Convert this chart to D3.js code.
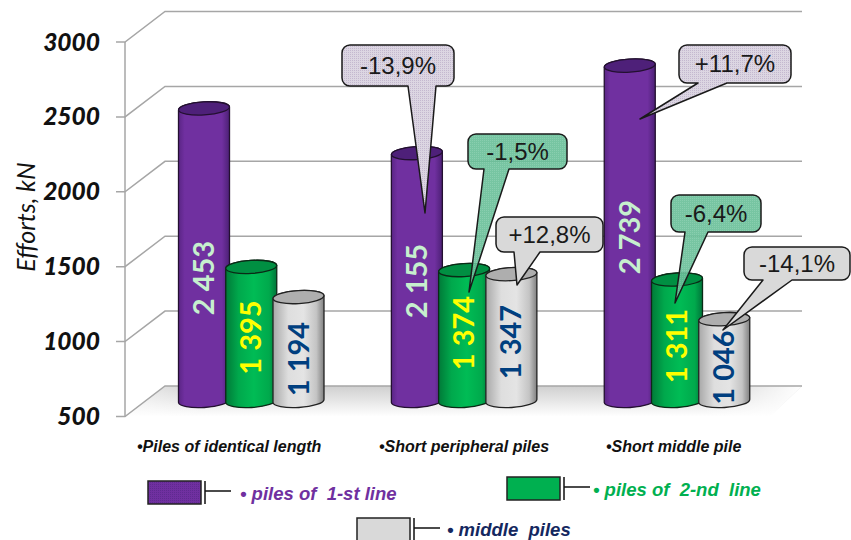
<!DOCTYPE html>
<html><head><meta charset="utf-8">
<script src="https://cdn.jsdelivr.net/npm/d3@7/dist/d3.min.js"></script>
<style>html,body{margin:0;padding:0;background:#fff}svg{display:block}</style>
</head><body><svg id="c" width="851" height="540"></svg>
<script>
// ---- data ----
const categories = ["Piles of identical length", "Short peripheral piles", "Short middle pile"];
const seriesNames = ["piles of  1-st line", "piles of  2-nd  line", "middle  piles"];
const firstLine = [2453, 2155, 2739];
const secondLine = [1395, 1374, 1311];
const middlePiles = [1194, 1347, 1046];
const firstLineDelta = [null, "-13,9%", "+11,7%"];
const secondLineDelta = [null, "-1,5%", "-6,4%"];
const middleDelta = [null, "+12,8%", "-14,1%"];
const yTicks = [500, 1000, 1500, 2000, 2500, 3000];
const yLabel = "Efforts, kN";

// ---- layout ----
const svg = d3.select("#c");
const W = 851, H = 540;
const yFront = d3.scaleLinear().domain([500, 3000]).range([416.5, 42]);
const yBack = d3.scaleLinear().domain([500, 3000]).range([386, 11.5]);
const yBar = d3.scaleLinear().domain([500, 3000]).range([401, 26.5]);
const x0 = d3.scaleBand().domain(d3.range(3)).range([179, 749]).paddingInner(0.3224);
const x1 = d3.scalePoint().domain(d3.range(3)).range([25, 119.5]);
const rx = 25.5, ry = 6.5, tilt = -3.5;
const series = [firstLine, secondLine, middlePiles];

const defs = svg.append("defs");
function cylGrad(id, stops) {
  const g = defs.append("linearGradient").attr("id", id).attr("x1", 0).attr("x2", 1).attr("y1", 0).attr("y2", 0);
  stops.forEach(([o, c]) => g.append("stop").attr("offset", o).attr("stop-color", c));
}
cylGrad("gPurple", [[0, "#5a2585"], [0.12, "#7030a0"], [0.85, "#7030a0"], [1, "#4c2075"]]);
cylGrad("gGreen", [[0, "#007a38"], [0.25, "#00a84c"], [0.55, "#00bc55"], [0.85, "#00a94c"], [1, "#00753a"]]);
cylGrad("gGray", [[0, "#a8a8a8"], [0.3, "#dedede"], [0.6, "#e4e4e4"], [0.85, "#c4c4c4"], [1, "#808080"]]);
const floorG = defs.append("linearGradient").attr("id", "gFloor").attr("x1", 0).attr("x2", 0).attr("y1", 0).attr("y2", 1);
floorG.append("stop").attr("offset", 0).attr("stop-color", "#cfcfcf");
floorG.append("stop").attr("offset", 1).attr("stop-color", "#ffffff");
const fade = defs.append("linearGradient").attr("id", "gFade").attr("x1", 0).attr("x2", 1).attr("y1", 0).attr("y2", 0);
[[0, "#fff", 0.6], [0.12, "#fff", 0], [0.85, "#fff", 0], [1, "#fff", 1]].forEach(([o, c, a]) =>
  fade.append("stop").attr("offset", o).attr("stop-color", c).attr("stop-opacity", a));
function dots(id, bg, fg, opacity) {
  const p = defs.append("pattern").attr("id", id).attr("width", 2).attr("height", 2).attr("patternUnits", "userSpaceOnUse");
  p.append("rect").attr("width", 2).attr("height", 2).attr("fill", bg);
  p.append("rect").attr("width", 1).attr("height", 1).attr("fill", fg).attr("opacity", opacity);
}
dots("pCallPurple", "#dcd6e2", "#c4b8cf", 1);
dots("pCallGreen", "#68bf98", "#7cc9a6", 1);
dots("pSwatch", "#7030a0", "#5f2a90", 1);

// ---- floor and grid ----
const floorPts = [[125, yFront(500)], [165, yBack(500)], [802, yBack(500)], [770, yFront(500)]];
const floorLine = d3.line();
svg.append("path").attr("d", floorLine(floorPts) + "Z").attr("fill", "url(#gFloor)");
svg.append("path").attr("d", floorLine(floorPts) + "Z").attr("fill", "url(#gFade)");

const gridColor = "#a6a6a6";
const grid = svg.append("g").attr("fill", "none").attr("stroke", gridColor).attr("stroke-width", 1.5);
grid.selectAll("path").data(yTicks).join("path")
  .attr("d", v => floorLine([[116, yFront(v)], [125, yFront(v)], [165, yBack(v)], [802, yBack(v)]]));
grid.append("line").attr("x1", 125).attr("x2", 125).attr("y1", yFront(3000)).attr("y2", yFront(500));

// tick labels
svg.append("g").selectAll("text").data(yTicks).join("text")
  .attr("x", 100).attr("y", v => yFront(v) + 8.5)
  .attr("text-anchor", "end")
  .attr("font-family", "Lato").attr("font-weight", 900).attr("font-style", "italic")
  .attr("font-size", 24.5).attr("fill", "#111")
  .text(d => d);
svg.append("text").attr("transform", "translate(35,217) rotate(-90)")
  .attr("text-anchor", "middle").attr("font-family", "Lato").attr("font-style", "italic")
  .attr("font-size", 25).attr("fill", "#111").text(yLabel);

// ---- cylinders ----
const cylStyles = [
  { fill: "url(#gPurple)", top: "#4e2079", stroke: "#231030" },
  { fill: "url(#gGreen)", top: "#008f42", stroke: "#0a2a16" },
  { fill: "url(#gGray)", top: "#aeaeae", stroke: "#222" }
];
function cylinderPath(cx, yTop, yBase) {
  const t = Math.tan(tilt * Math.PI / 180) * rx;
  return `M${cx - rx},${yTop - t}L${cx - rx},${yBase - t}` +
    `A${rx},${ry} ${tilt} 0 0 ${cx + rx},${yBase + t}` +
    `L${cx + rx},${yTop + t}` +
    `A${rx},${ry} ${tilt} 0 0 ${cx - rx},${yTop - t}Z`;
}
const barG = svg.append("g");
series.forEach((vals, s) => {
  const st = cylStyles[s];
  vals.forEach((v, c) => {
    const cx = x0(c) + x1(s);
    const g = barG.append("g");
    g.append("path").attr("d", cylinderPath(cx, yBar(v), yBar(500)))
      .attr("fill", st.fill).attr("stroke", st.stroke).attr("stroke-width", 1.3);
    g.append("ellipse").attr("cx", cx).attr("cy", yBar(v)).attr("rx", rx).attr("ry", ry)
      .attr("transform", `rotate(${tilt} ${cx} ${yBar(v)})`)
      .attr("fill", st.top).attr("stroke", st.stroke).attr("stroke-width", 1.3);
  });
});

// ---- value labels (hand-placed in the source, centres along each cylinder) ----
const labelCentres = [[278, 281, 237], [337.5, 333, 346], [359, 342, 367.5]];
const labelOrder = [[0, 0], [0, 1], [0, 2], [1, 0], [1, 1], [1, 2], [2, 0], [2, 1], [2, 2]];
const labelColors = ["#c6efce", "#ffff00", "#003f7f"];
const fmt = v => { const s = String(v); return s.slice(0, s.length - 3) + " " + s.slice(-3); };
svg.append("g").selectAll("text").data(labelOrder).join("text")
  .attr("transform", ([s, c]) => `translate(${x0(c) + x1(s) + 10},${labelCentres[s][c]}) rotate(-90)`)
  .attr("text-anchor", "middle")
  .attr("font-family", "Lato").attr("font-weight", 700).attr("font-size", 29)
  .attr("fill", ([s]) => labelColors[s])
  .text(([s, c]) => fmt(series[s][c]));

// ---- callouts ----
function callout(b, tail) {
  const r = 8;
  const [x, y, X, Y] = b, [t0, t1, tx, ty] = tail;
  return `M${x + r},${y}H${X - r}A${r},${r} 0 0 1 ${X},${y + r}V${Y - r}A${r},${r} 0 0 1 ${X - r},${Y}` +
    `H${t1}L${tx},${ty}L${t0},${Y}H${x + r}A${r},${r} 0 0 1 ${x},${Y - r}V${y + r}A${r},${r} 0 0 1 ${x + r},${y}Z`;
}
const calloutShapes = [
  { txt: firstLineDelta[1], box: [342, 45, 454, 86], tail: [408, 436, 425, 213], fill: "url(#pCallPurple)", op: 1 },
  { txt: secondLineDelta[1], box: [468, 134, 567, 169], tail: [484, 509, 469, 292], fill: "url(#pCallGreen)", op: 0.9 },
  { txt: middleDelta[1], box: [496, 217, 603, 252], tail: [514, 540, 517, 285], fill: "#d9d9d9", op: 1 },
  { txt: firstLineDelta[2], box: [679, 45, 791, 83], tail: [698, 727, 640, 119], fill: "url(#pCallPurple)", op: 1 },
  { txt: secondLineDelta[2], box: [671, 195, 761, 232], tail: [685, 708, 675, 303], fill: "url(#pCallGreen)", op: 0.9 },
  { txt: middleDelta[2], box: [744, 247, 850, 280], tail: [763, 792, 723, 330], fill: "#d9d9d9", op: 1 }
];
const cG = svg.append("g").selectAll("g").data(calloutShapes).join("g");
cG.append("path").attr("d", d => callout(d.box, d.tail))
  .attr("fill", d => d.fill).attr("fill-opacity", d => d.op)
  .attr("stroke", "#1a1a1a").attr("stroke-width", 1.5).attr("stroke-linejoin", "round");
cG.append("text").attr("x", d => (d.box[0] + d.box[2]) / 2).attr("y", d => (d.box[1] + d.box[3]) / 2 + 8)
  .attr("text-anchor", "middle").attr("font-family", "Liberation Sans").attr("font-size", 24).attr("fill", "#1a1a1a")
  .text(d => d.txt);

// ---- category labels ----
const catX = [137, 379, 606];
svg.append("g").selectAll("text").data(categories).join("text")
  .attr("x", (d, i) => catX[i]).attr("y", 452)
  .attr("font-family", "Liberation Sans").attr("font-weight", 700).attr("font-style", "italic")
  .attr("font-size", 16).attr("fill", "#111")
  .text(d => "•" + d);

// ---- legend ----
const legendPos = [
  { x: 148, y: 481, lx: 240, by: 500, fill: "url(#pSwatch)", color: "#7030a0" },
  { x: 507, y: 477, lx: 593, by: 496, fill: "#00b050", color: "#00b050" },
  { x: 357, y: 518, lx: 447, by: 536, fill: "#d9d9d9", color: "#14285f" }
];
const lg = svg.append("g").selectAll("g").data(legendPos).join("g");
lg.append("rect").attr("x", d => d.x).attr("y", d => d.y).attr("width", 53).attr("height", 23)
  .attr("fill", d => d.fill).attr("stroke", "#222").attr("stroke-width", 1.5);
lg.append("path").attr("d", d => `M${d.x + 57},${d.y}V${d.y + 23}M${d.x + 57},${d.y + 10}H${d.x + 83}`)
  .attr("stroke", "#111").attr("stroke-width", 1.5).attr("fill", "none");
lg.append("text").attr("x", d => d.lx).attr("y", d => d.by)
  .attr("font-family", "Liberation Sans").attr("font-weight", 700).attr("font-style", "italic")
  .attr("font-size", 18.5).attr("fill", d => d.color).attr("xml:space", "preserve").style("white-space", "pre")
  .text((d, i) => "• " + seriesNames[i]);
</script></body></html>
